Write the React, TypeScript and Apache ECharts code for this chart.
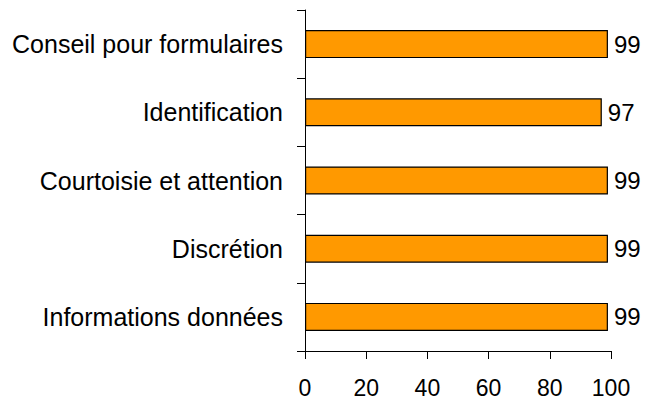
import React, { useEffect, useRef } from "react";
import * as echarts from "echarts";

const categories = [
  "Conseil pour formulaires",
  "Identification",
  "Courtoisie et attention",
  "Discrétion",
  "Informations données",
];
const values = [99, 97, 99, 99, 99];
const xTicks = [0, 20, 40, 60, 80, 100];

export default function App() {
  const ref = useRef<HTMLDivElement>(null);
  useEffect(() => {
    document.body.style.margin = "0";
    const chart = echarts.init(ref.current!, null, { renderer: "svg" });
    const font = "'Liberation Sans', Arial, sans-serif";
    chart.setOption({
      animation: false,
      backgroundColor: "#ffffff",
      grid: { left: 305, right: 34, top: 10, bottom: 50, containLabel: false },
      xAxis: {
        type: "value",
        min: xTicks[0],
        max: xTicks[xTicks.length - 1],
        interval: 20,
        splitLine: { show: false },
        axisLine: { show: true, lineStyle: { color: "#000", width: 1 } },
        axisTick: { show: true, length: 8, lineStyle: { color: "#000" } },
        axisLabel: { color: "#000", fontSize: 23, fontFamily: font, margin: 25 },
      },
      yAxis: {
        type: "category",
        data: categories,
        inverse: true,
        axisLine: { show: true, lineStyle: { color: "#000", width: 1 } },
        axisTick: { show: true, length: 8, lineStyle: { color: "#000" } },
        axisLabel: { color: "#000", fontSize: 25, fontFamily: font, margin: 22 },
      },
      series: [
        {
          type: "bar",
          data: values,
          barWidth: "41%",
          itemStyle: { color: "#FF9900", borderColor: "#000", borderWidth: 1.2 },
          label: {
            show: true,
            position: "right",
            distance: 6,
            color: "#000",
            fontSize: 24,
            fontFamily: font,
          },
        },
      ],
    });
    return () => chart.dispose();
  }, []);
  return <div ref={ref} style={{ width: 645, height: 401 }} />;
}
